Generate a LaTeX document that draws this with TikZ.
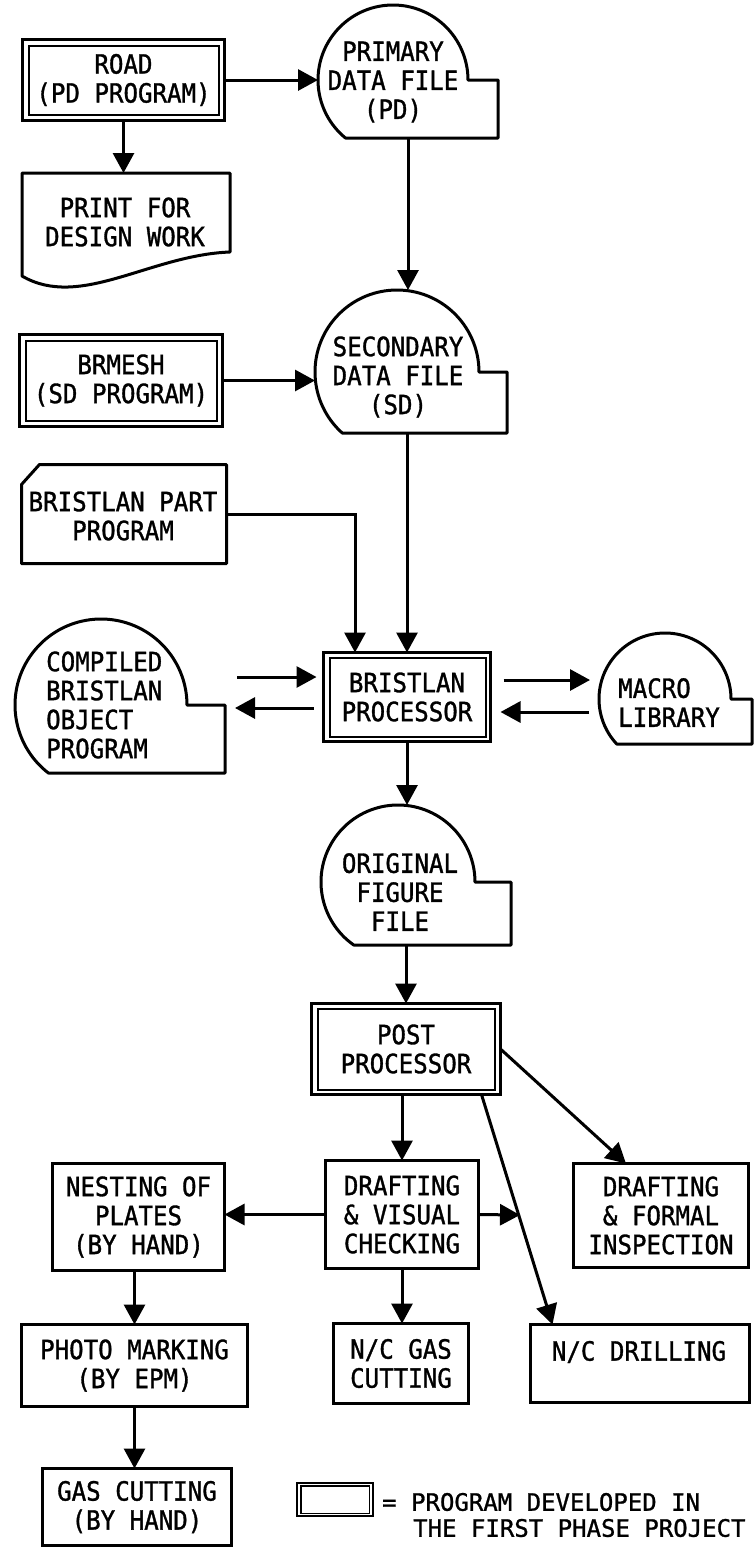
\documentclass[tikz,border=0pt]{standalone}
\usepackage{fontspec}
\newfontfamily\dmono{DejaVu Sans Mono}[FakeStretch=0.91,FakeBold=1.2]
\newfontfamily\lmono{DejaVu Sans Mono}[FakeBold=1]
\newcommand\boxfnt{\dmono\fontsize{26.5}{29}\selectfont}
\newcommand\legfnt{\lmono\fontsize{24}{26}\selectfont}
\usetikzlibrary{arrows.meta,calc}
% data-file outline: name, cx, cy, r, tab x, bottom y  (pixel coordinates, y downwards)
\newcommand\dfile[6]{%
  \pgfmathsetmacro\dfang{180+asin((#6-#3)/#4)}%
  \pgfmathsetmacro\dfw{#5-(#2-#4)}%
  \pgfmathsetmacro\dfh{#6-(#3-#4)}%
  \pgfmathsetmacro\dfx{(#5+#2-#4)/2}%
  \pgfmathsetmacro\dfy{(#6+#3-#4)/2}%
  \node[ghost, minimum width=\dfw pt, minimum height=\dfh pt] (#1) at (\dfx,-\dfy) {};
  \draw[ln] (#2,-#3) ++(\dfang:#4) arc[start angle=\dfang, end angle=0, radius=#4]
     -- (#5,-#3) -- (#5,-#6) -- cycle;
}
\begin{document}
\begin{tikzpicture}[x=1pt,y=1pt,
  ln/.style={line width=3pt, line join=round},
  box/.style={draw, line width=3pt, inner sep=0pt, outer sep=0pt, align=center, font=\boxfnt},
  dblbox/.style={box, line width=3.5pt},
  inbox/.style={line width=2pt},
  ghost/.style={inner sep=0pt, outer sep=0pt},
  txt/.style={inner sep=0pt, align=center, font=\boxfnt},
  ltxt/.style={inner sep=0pt, font=\legfnt},
  arr/.style={line width=3pt, -{Triangle[length=20pt,width=21pt]}},
]
\fill[white] (0,0) rectangle (755,-1550);
\useasboundingbox (0,0) rectangle (755,-1550);

% ---------- boxes ----------
\node[dblbox, minimum width=202pt, minimum height=81pt] (road) at (123.5,-80) {ROAD\\(PD PROGRAM)};
\draw[inbox] ($(road.north west)+(6,-6)$) rectangle ($(road.south east)+(-6,6)$);

\node[ghost, minimum width=208pt, minimum height=104pt] (print) at (126,-225) {};
\draw[ln] (print.north west) -- (print.north east) -- (230,-252)
   .. controls (150,-255) and (80,-310) .. (22,-276) -- cycle;
\node[txt] (printt) at (125,-222) {PRINT FOR\\DESIGN WORK};

\dfile{pd}{393}{80}{75}{498}{138}
\node[txt] (pdt) at (393,-82) {PRIMARY\\DATA FILE\\(PD)};

\node[dblbox, minimum width=203pt, minimum height=92pt] (brmesh) at (121,-380.5) {BRMESH\\(SD PROGRAM)};
\draw[inbox] ($(brmesh.north west)+(6,-6)$) rectangle ($(brmesh.south east)+(-6,6)$);

\dfile{sd}{397}{372}{82}{507}{433}
\node[txt] (sdt) at (398,-377) {SECONDARY\\DATA FILE\\(SD)};

\node[ghost, minimum width=205pt, minimum height=99pt] (card) at (124,-514) {};
\draw[ln] ($(card.north west)+(0,-20)$) -- ($(card.north west)+(18,0)$) -- (card.north east)
   -- (card.south east) -- (card.south west) -- cycle;
\node[txt] (cardt) at (123,-516) {BRISTLAN PART\\PROGRAM};

\dfile{comp}{101}{705}{86}{225}{773}
\node[txt, align=left, anchor=west] (compt) at (46,-705) {COMPILED\\BRISTLAN\\OBJECT\\PROGRAM};

\node[dblbox, minimum width=167pt, minimum height=89pt] (proc) at (407,-697) {BRISTLAN\\PROCESSOR};
\draw[inbox] ($(proc.north west)+(6,-5)$) rectangle ($(proc.south east)+(-5,5)$);

\dfile{mac}{665}{699}{66}{752}{744}
\node[txt, align=left, anchor=west] (mact) at (618,-702.5) {MACRO\\LIBRARY};

\dfile{orig}{398}{882}{77}{511}{945}
\node[txt] (origt) at (400,-892) {ORIGINAL\\FIGURE\\FILE};

\node[dblbox, minimum width=189pt, minimum height=91pt] (post) at (406,-1049) {POST\\PROCESSOR};
\draw[inbox] ($(post.north west)+(6,-5)$) rectangle ($(post.south east)+(-6,5)$);

\node[box, minimum width=153pt, minimum height=108pt] (dv) at (402,-1214.5) {DRAFTING\\\& VISUAL\\CHECKING};
\node[box, minimum width=172pt, minimum height=107pt] (nest) at (138.5,-1217) {NESTING OF\\PLATES\\(BY HAND)};
\node[box, minimum width=175pt, minimum height=104pt] (formal) at (661,-1215.5) {DRAFTING\\\& FORMAL\\INSPECTION};
\node[box, minimum width=219pt, minimum height=78pt] (drill) at (640,-1363.5) {};
\node[txt] (drillt) at (639,-1352) {N/C DRILLING};
\node[box, minimum width=135pt, minimum height=80pt] (gas) at (401,-1363.5) {N/C GAS\\CUTTING};
\node[box, minimum width=226pt, minimum height=82pt] (photo) at (134.5,-1365.5) {PHOTO MARKING\\(BY EPM)};
\node[box, minimum width=189pt, minimum height=77pt] (gascut) at (137,-1507) {GAS CUTTING\\(BY HAND)};

% ---------- legend ----------
\node[draw, line width=2.5pt, inner sep=0pt, minimum width=76pt, minimum height=33pt] (leg) at (335,-1499.5) {};
\draw[line width=1.5pt] ($(leg.north west)+(5,-4)$) rectangle ($(leg.south east)+(-5,4)$);
\node[ltxt, anchor=west] (leg1) at (382,-1502) {= PROGRAM DEVELOPED IN};
\node[ltxt, anchor=west] (leg2) at (413,-1528) {THE FIRST PHASE PROJECT};

% ---------- connectors ----------
\draw[arr] (road.east) -- (road.east -| pd.west);
\draw[arr] (road.south) -- (road.south |- print.north);
\draw[arr] (pd.south) -- (pd.south |- sd.north);
\draw[arr] (brmesh.east) -- (brmesh.east -| sd.west);
\draw[arr] (card.east) -| ($(proc.north)+(-52,0)$);
\draw[arr] (proc.north |- sd.south) -- (proc.north);
\draw[arr] ($(comp.east |- proc.west)+(12,20)$) -- ($(proc.west)+(-7,20)$);
\draw[arr] ($(proc.west)+(-10,-11)$) -- ($(comp.east |- proc.west)+(10,-11)$);
\draw[arr] ($(proc.east)+(13,17)$) -- ($(proc.east -| mac.west)+(-9,17)$);
\draw[arr] ($(proc.east -| mac.west)+(-10,-15)$) -- ($(proc.east)+(10,-15)$);
\draw[arr] (proc.south) -- (proc.south |- orig.north);
\draw[arr] (post.north |- orig.south) -- (post.north);
\draw[arr] (dv.north |- post.south) -- (dv.north);
\draw[arr] (post.east) -- ($(formal.north)+(-35,0)$);
\draw[arr] ($(post.south east)+(-19,0)$) -- ($(drill.north west)+(22,0)$);
\coordinate (dvr) at (520,-1215);
\draw[arr] (dv.east) -- (dvr);
\draw[arr] (dv.west) -- (dv.west -| nest.east);
\draw[arr] (dv.south) -- (dv.south |- gas.north);
\draw[arr] (photo.north |- nest.south) -- (photo.north);
\draw[arr] (photo.south) -- (photo.south |- gascut.north);
\end{tikzpicture}
\end{document}
